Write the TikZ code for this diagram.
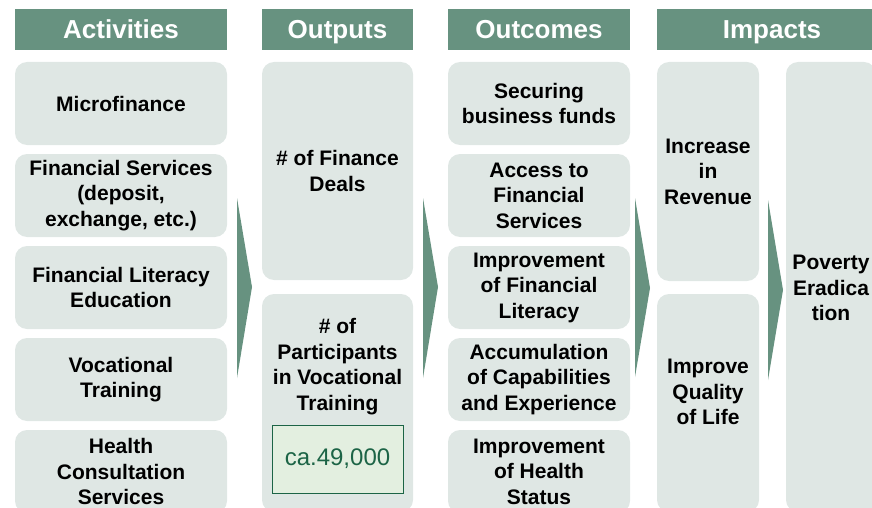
\documentclass[tikz,border=0pt]{standalone}
\usepackage{fontspec}
\setmainfont{Liberation Sans}
\definecolor{hdgreen}{RGB}{103,146,128}
\definecolor{boxgray}{RGB}{223,231,228}
\definecolor{numfill}{RGB}{227,239,224}
\definecolor{numgreen}{RGB}{28,100,70}

\begin{document}
\begin{tikzpicture}[x=1pt,y=-1pt]

		\tikzstyle{every node}=[font=\fontsize{21}{25.5}\selectfont\bfseries, align=center, text=black, inner sep=0pt]
		\tikzstyle{head}=[fill=hdgreen, text=white, font=\fontsize{26}{30}\selectfont\bfseries,
			text height=18pt, text depth=0pt, minimum height=41pt]
		\tikzstyle{card}=[fill=boxgray, rounded corners=12pt, minimum height=83pt]
		\tikzstyle{flow}=[fill=hdgreen]

		\useasboundingbox (0,0) rectangle (872,508);
		\clip (0,0) rectangle (872,508);

		% headers
		\node[head, minimum width=212pt] (hact) at (121,29.5) {Activities};
		\node[head, minimum width=151pt] (hout) at (337.5,29.5) {Outputs};
		\node[head, minimum width=182pt] (hoc) at (539,29.5) {Outcomes};
		\node[head, minimum width=230pt] (himp) at (772,29.5) {Impacts};

		% activities
		\node[card, minimum width=212pt] (act1) at (121,103.5) {Microfinance};
		\node[card, minimum width=212pt] (act2) at (121,195.5) {Financial Services\\(deposit,\\exchange, etc.)};
		\node[card, minimum width=212pt] (act3) at (121,287.5) {Financial Literacy\\Education};
		\node[card, minimum width=212pt] (act4) at (121,379.5) {Vocational\\Training};
		\node[card, minimum width=212pt] (act5) at (121,471.5) {Health\\Consultation\\Services};

		% outputs
		\node[card, minimum width=151pt, minimum height=218pt] (out1) at (337.5,171) {\# of Finance\\Deals};
		\node[card, minimum width=151pt, minimum height=218pt] (out2) at (337.5,403) {};
		\node (out2txt) at (337.5,366.5) {\# of\\Participants\\in Vocational\\Training};
		\node[draw=numgreen, fill=numfill, text=numgreen, font=\fontsize{24}{28}\selectfont,
			minimum width=131pt, minimum height=68pt] (num) at (337.5,459) {ca.49,000};

		% outcomes
		\node[card, minimum width=182pt] (oc1) at (539,103.5) {Securing\\business funds};
		\node[card, minimum width=182pt] (oc2) at (539,195.5) {Access to\\Financial\\Services};
		\node[card, minimum width=182pt] (oc3) at (539,287.5) {Improvement\\of Financial\\Literacy};
		\node[card, minimum width=182pt] (oc4) at (539,379.5) {Accumulation\\of Capabilities\\and Experience};
		\node[card, minimum width=182pt] (oc5) at (539,471.5) {Improvement\\of Health\\Status};

		% impacts
		\node[card, minimum width=102pt, minimum height=219pt] (imp1) at (708,171.5) {Increase\\in\\Revenue};
		\node[card, minimum width=102pt, minimum height=218pt] (imp2) at (708,403) {};
		\node (imp2txt) at (708,392) {Improve\\Quality\\of Life};
		\node[card, minimum width=90pt, minimum height=450pt] (pov) at (831,287) {};
		\node (povtxt) at (831,288) {Poverty\\Eradica\\tion};

		% arrows between columns
		\fill[flow] (237,198) -- (252,287) -- (237,378) -- cycle;
		\fill[flow] (423,198) -- (438,287) -- (423,378) -- cycle;
		\fill[flow] (635,198) -- (650,288) -- (635,377) -- cycle;
		\fill[flow] (768,200) -- (783,290) -- (768,380) -- cycle;

\end{tikzpicture}
\end{document}
